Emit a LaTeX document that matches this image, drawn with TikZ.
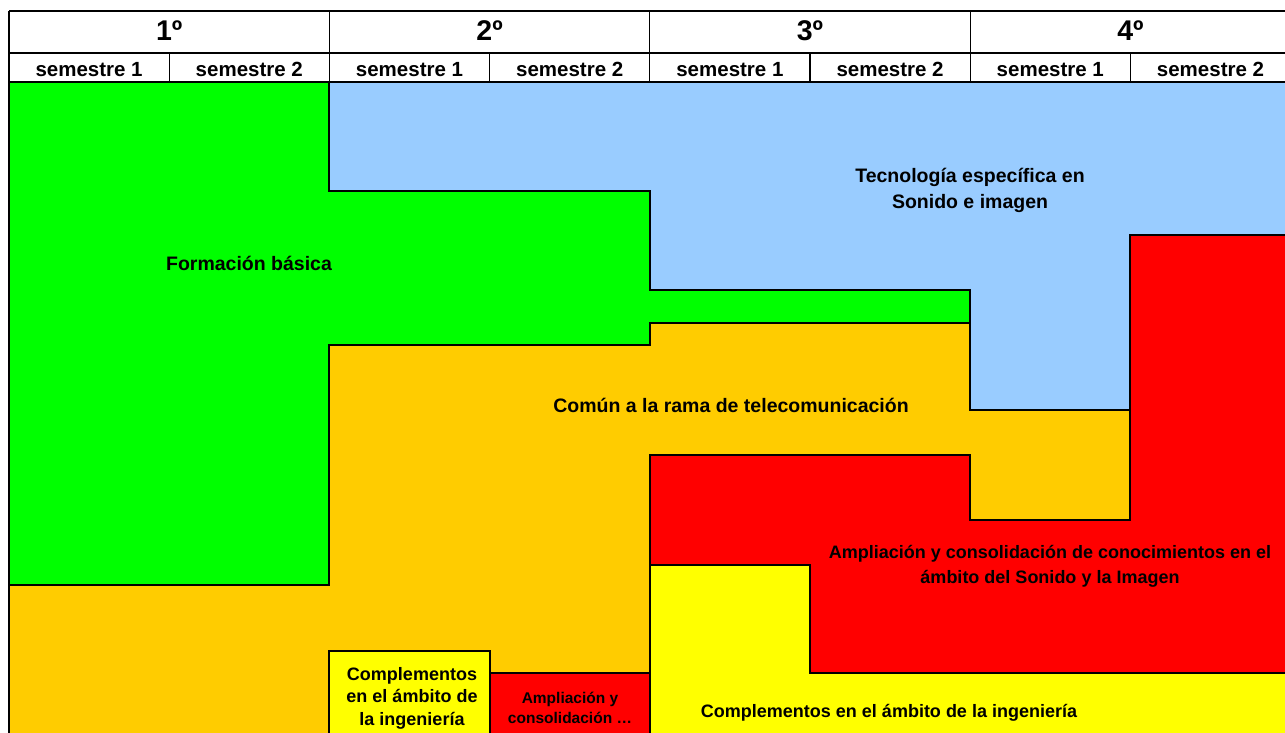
\documentclass[tikz,border=0pt]{standalone}
\usepackage{fontspec}
\setmainfont{Liberation Sans}
\definecolor{basica}{HTML}{00FF00}
\definecolor{tecno}{HTML}{99CCFF}
\definecolor{comun}{HTML}{FFCC00}
\definecolor{amplia}{HTML}{FF0000}
\definecolor{comple}{HTML}{FFFF00}
\tikzset{
  zona/.style={draw=black,line width=1.8pt,line join=miter},
  rejilla/.style={draw=black,line width=1.2pt},
  anio/.style={font=\bfseries\fontsize{28.5}{28.5}\selectfont,inner sep=0pt,anchor=base},
  semestre/.style={font=\bfseries\fontsize{20.5}{20.5}\selectfont,inner sep=0pt,anchor=base},
  rotulo/.style={font=\bfseries\fontsize{19.5}{26}\selectfont,inner sep=0pt,align=center},
  chico/.style={font=\bfseries\fontsize{18}{22.5}\selectfont,inner sep=0pt,align=center},
  mini/.style={font=\bfseries\fontsize{15.5}{20}\selectfont,inner sep=0pt,align=center}
}
\begin{document}
\begin{tikzpicture}[x=1pt,y=-1pt]
  \useasboundingbox (0,0) rectangle (1285,733);
  \clip (0,0) rectangle (1285,733);
  \fill[white] (0,0) rectangle (1285,733);
  % cabecera: cursos y semestres
  \foreach \c/\t in {0/1,1/2,2/3,3/4}
    \node[anio] (curso\t) at ({169.2+320.4*\c},41) {\t º};
  \foreach \s in {0,...,7}{
    \pgfmathtruncatemacro{\n}{mod(\s,2)+1}
    \node[semestre] (sem\s) at ({89.1+160.2*\s},76.5) {semestre \n};
  }
  \draw[rejilla] (9,11) -- (1291,11) (9,53) -- (1291,53) (9,82) -- (1291,82);
  \foreach \c in {0,...,4}
    \draw[rejilla] ({9+320.4*\c},11) -- ({9+320.4*\c},82);
  \foreach \c in {0,...,3}
    \draw[rejilla] ({169.2+320.4*\c},53) -- ({169.2+320.4*\c},82);
  % zonas de materias
  \draw[zona,fill=tecno] (329,82) -- (1291,82) -- (1291,235) -- (1130,235)
    -- (1130,410) -- (970,410) -- (970,290) -- (650,290) -- (650,191)
    -- (329,191) -- cycle;
  \draw[zona,fill=basica] (9,82) -- (329,82) -- (329,191) -- (650,191)
    -- (650,290) -- (970,290) -- (970,323) -- (650,323) -- (650,345)
    -- (329,345) -- (329,585) -- (9,585) -- cycle;
  \draw[zona,fill=comun] (9,585) -- (329,585) -- (329,345) -- (650,345)
    -- (650,323) -- (970,323) -- (970,410) -- (1130,410) -- (1130,520)
    -- (970,520) -- (970,455) -- (650,455) -- (650,745) -- (9,745) -- cycle;
  \draw[zona,fill=amplia] (650,455) -- (970,455) -- (970,520) -- (1130,520)
    -- (1130,235) -- (1291,235) -- (1291,673) -- (810,673) -- (810,565)
    -- (650,565) -- cycle;
  \draw[zona,fill=comple] (650,565) -- (810,565) -- (810,673) -- (1291,673)
    -- (1291,745) -- (650,745) -- cycle;
  \draw[zona,fill=comple] (329,651) rectangle (490,745);
  \draw[zona,fill=amplia] (490,673) rectangle (650,745);
  % rotulos
  \node[rotulo,anchor=base] (tbasica) at (249,270) {Formación básica};
  \node[rotulo] (ttecno) at (970,190) {Tecnología específica en\\Sonido e imagen};
  \node[rotulo,anchor=base] (tcomun) at (731,412) {Común a la rama de telecomunicación};
  \node[chico,font=\bfseries\fontsize{18}{25}\selectfont] (tamplia) at (1050,566) {Ampliación y consolidación de conocimientos en el\\ámbito del Sonido y la Imagen};
  \node[chico,anchor=base] (tcomple) at (889,717) {Complementos en el ámbito de la ingeniería};
  \node[chico] (tcomplea) at (412,698) {Complementos\\en el ámbito de\\la ingeniería};
  \node[mini] (tampliaa) at (570,708) {Ampliación y\\consolidación …};
\end{tikzpicture}
\end{document}
